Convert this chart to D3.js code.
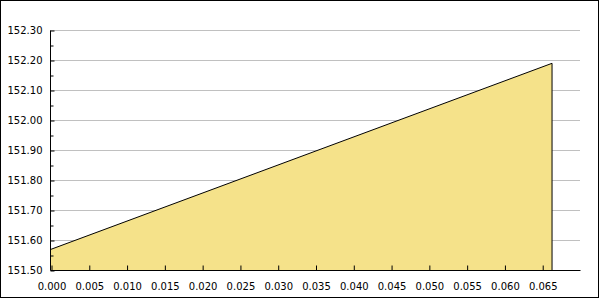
<!DOCTYPE html>
<html>
<head>
<meta charset="utf-8">
<script src="https://cdn.jsdelivr.net/npm/d3@7"></script>
<style>
  body { margin: 0; background: #fff; }
  svg { display: block; }
</style>
</head>
<body>
<div id="chart"></div>
<script>
// values
const xValues = [0, 0.0663];
const yValues = [151.569, 152.189];
const xTicks = [0, 0.005, 0.01, 0.015, 0.02, 0.025, 0.03, 0.035, 0.04, 0.045, 0.05, 0.055, 0.06, 0.065];
const yTicks = [151.5, 151.6, 151.7, 151.8, 151.9, 152.0, 152.1, 152.2, 152.3];
const yMinorTicks = [151.55, 151.65, 151.75, 151.85, 151.95, 152.05, 152.15, 152.25];

const width = 600;
const height = 300;
const margin = {top: 30, right: 20, bottom: 30, left: 50};

const svg = d3.select("#chart")
  .append("svg")
    .attr("width", width)
    .attr("height", height);

// outer frame
svg.append("rect")
  .attr("x", 0.5)
  .attr("y", 0.5)
  .attr("width", 598)
  .attr("height", 297)
  .attr("fill", "#fff")
  .attr("stroke", "#000");

const x = d3.scaleLinear()
  .domain([0, 0.07])
  .range([margin.left + 1, width - margin.right]);

const y = d3.scaleLinear()
  .domain([151.5, 152.3])
  .range([height - margin.bottom, margin.top]);

const data = xValues.map((d, i) => ({x: d, y: yValues[i]}));

// grid lines
svg.append("g")
  .selectAll("line")
  .data(yTicks.slice(1))
  .enter()
  .append("line")
    .attr("x1", margin.left)
    .attr("x2", width - margin.right)
    .attr("y1", d => Math.round(y(d)) + 0.5)
    .attr("y2", d => Math.round(y(d)) + 0.5)
    .attr("stroke", "#c0c0c0");

// area
const area = d3.area()
  .x(d => x(d.x))
  .y0(y(151.5))
  .y1(d => y(d.y));

svg.append("path")
  .datum(data)
  .attr("d", area)
  .attr("fill", "#f5e28a");

const last = data[data.length - 1];
const outline = [...data, {x: last.x, y: 151.5}];

svg.append("path")
  .datum(outline)
  .attr("d", d3.line().x(d => x(d.x)).y(d => y(d.y)))
  .attr("fill", "none")
  .attr("stroke", "#000")
  .attr("stroke-width", 1);

// y axis
const yAxis = svg.append("g")
  .attr("transform", "translate(" + (margin.left + 0.5) + ",0.5)")
  .call(d3.axisRight(y).tickValues(yTicks).tickSize(4).tickFormat(d3.format(".2f")));
yAxis.select(".domain").attr("d", "M0," + (Math.round(y(152.3))) + "V" + Math.round(y(151.5)));
yAxis.selectAll(".tick text")
  .attr("x", -8)
  .attr("text-anchor", "end")
  .attr("font-family", "DejaVu Sans")
  .attr("font-size", "10px")
  .attr("fill", "#000");

svg.append("g")
  .attr("transform", "translate(" + (margin.left + 0.5) + ",0.5)")
  .call(d3.axisRight(y).tickValues(yMinorTicks).tickSize(3).tickFormat(""))
  .select(".domain").remove();

// x axis
const xAxis = svg.append("g")
  .attr("transform", "translate(0.5," + (height - margin.bottom + 0.5) + ")")
  .call(d3.axisTop(x).tickValues(xTicks).tickSize(5).tickFormat(d3.format(".3f")));
xAxis.select(".domain").attr("d", "M" + (margin.left) + ",0H" + (width - margin.right));
xAxis.selectAll(".tick text")
  .attr("y", 12)
  .attr("dy", "0")
  .attr("dominant-baseline", "hanging")
  .attr("font-family", "DejaVu Sans")
  .attr("font-size", "10px")
  .attr("fill", "#000");
</script>
</body>
</html>
